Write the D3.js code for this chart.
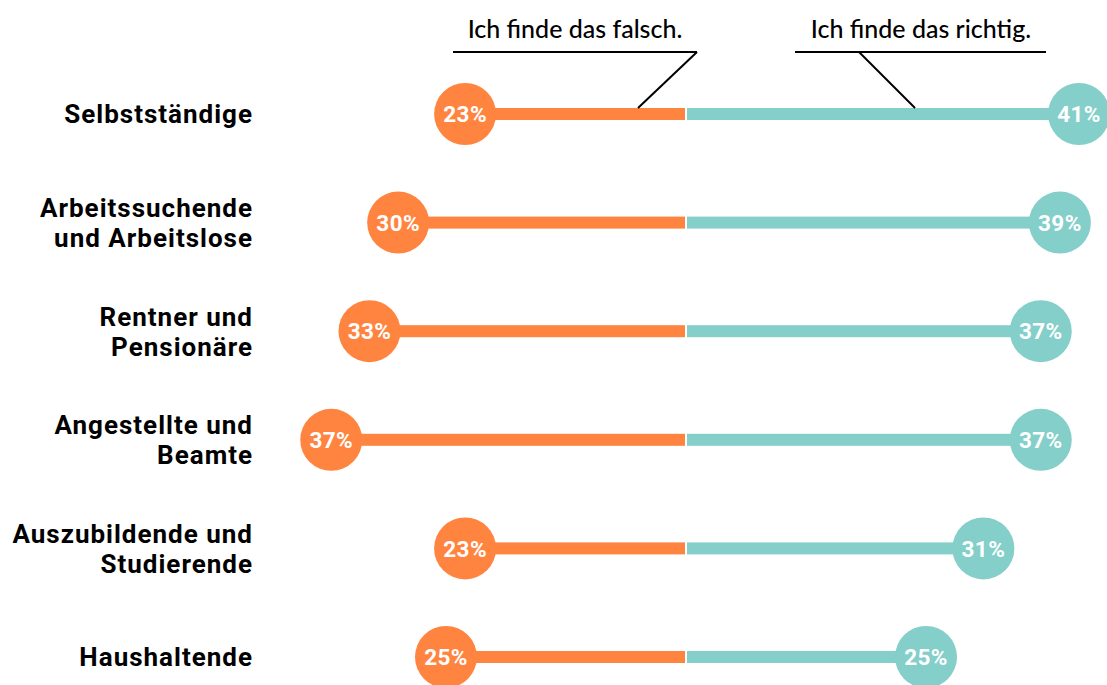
<!DOCTYPE html>
<html>
<head>
<meta charset="utf-8">
<script src="https://cdn.jsdelivr.net/npm/d3@7"></script>
<style>
  html, body { margin: 0; padding: 0; background: #fff; }
  svg { display: block; }
</style>
</head>
<body>
<svg id="chart" width="1107" height="685"></svg>
<script>
// Groups, each label split into display lines
const categories = [
  ["Selbstständige"],
  ["Arbeitssuchende", "und Arbeitslose"],
  ["Rentner und", "Pensionäre"],
  ["Angestellte und", "Beamte"],
  ["Auszubildende und", "Studierende"],
  ["Haushaltende"]
];
// Share answering "wrong" (left) and "right" (right), in percent
const falschValues = [23, 30, 33, 37, 23, 25];
const richtigValues = [41, 39, 37, 37, 31, 25];
const legendLabels = ["Ich finde das falsch.", "Ich finde das richtig."];

const orange = "#FF843F";
const teal = "#84CFC9";

const svg = d3.select("#chart");
const center = 686;

// Percent -> distance from the centre line
const dist = d3.scaleLinear().domain([0, 41]).range([0, 392]);

const y = d3.scalePoint()
  .domain(d3.range(categories.length))
  .range([114, 657]);

const barH = 12;
const r = 31;

const rows = svg.selectAll("g.row")
  .data(categories.map((c, i) => ({ label: c, f: falschValues[i], r: richtigValues[i], i })))
  .join("g")
  .attr("class", "row")
  .attr("transform", d => `translate(0,${y(d.i)})`);

// Left (orange) bar
rows.append("rect")
  .attr("x", d => center - 1 - dist(d.f))
  .attr("y", -barH / 2)
  .attr("width", d => dist(d.f))
  .attr("height", barH)
  .attr("fill", orange);

// Right (teal) bar
rows.append("rect")
  .attr("x", center + 1)
  .attr("y", -barH / 2)
  .attr("width", d => dist(d.r))
  .attr("height", barH)
  .attr("fill", teal);

// End circles
rows.append("circle")
  .attr("cx", d => center - 1 - dist(d.f))
  .attr("cy", 0)
  .attr("r", r)
  .attr("fill", orange);

rows.append("circle")
  .attr("cx", d => center + 1 + dist(d.r))
  .attr("cy", 0)
  .attr("r", r)
  .attr("fill", teal);

// Value labels in the circles
const valStyle = sel => sel
  .attr("text-anchor", "middle")
  .attr("dy", "0.36em")
  .attr("fill", "#fff")
  .attr("font-family", "Roboto, sans-serif")
  .attr("font-weight", 700)
  .attr("font-size", 22.5)
  .attr("letter-spacing", 0.4);

rows.append("text")
  .attr("x", d => center - 1 - dist(d.f))
  .attr("y", 0)
  .text(d => d.f + "%")
  .call(valStyle);

rows.append("text")
  .attr("x", d => center + 1 + dist(d.r))
  .attr("y", 0)
  .text(d => d.r + "%")
  .call(valStyle);

// Category labels, right aligned
const lineH = 30;
rows.append("text")
  .attr("text-anchor", "end")
  .attr("font-family", "Roboto, sans-serif")
  .attr("font-weight", 700)
  .attr("font-size", 26)
  .attr("letter-spacing", 1)
  .attr("fill", "#000")
  .each(function (d) {
    const t = d3.select(this);
    const n = d.label.length;
    d.label.forEach((line, k) => {
      t.append("tspan")
        .attr("x", 253)
        .attr("y", (k - (n - 1) / 2) * lineH)
        .attr("dy", "0.36em")
        .text(line);
    });
  });

// Legend callouts above the first row
const barTop = y(0) - barH / 2;
const callouts = [
  { text: legendLabels[0], tx: 575, x1: 453, x2: 697, from: 697, to: 638 },
  { text: legendLabels[1], tx: 921, x1: 795, x2: 1046, from: 859, to: 915 }
];

const legend = svg.append("g").attr("class", "legend");
callouts.forEach(c => {
  legend.append("text")
    .attr("x", c.tx)
    .attr("y", 38)
    .attr("text-anchor", "middle")
    .attr("font-family", "Lato, sans-serif")
    .attr("font-weight", 500)
    .attr("font-size", 25)
    .attr("fill", "#000")
    .text(c.text);
  legend.append("line")
    .attr("x1", c.x1).attr("x2", c.x2)
    .attr("y1", 52).attr("y2", 52)
    .attr("stroke", "#000").attr("stroke-width", 2);
  legend.append("line")
    .attr("x1", c.from).attr("y1", 52)
    .attr("x2", c.to).attr("y2", barTop)
    .attr("stroke", "#000").attr("stroke-width", 2);
});
</script>
</body>
</html>
